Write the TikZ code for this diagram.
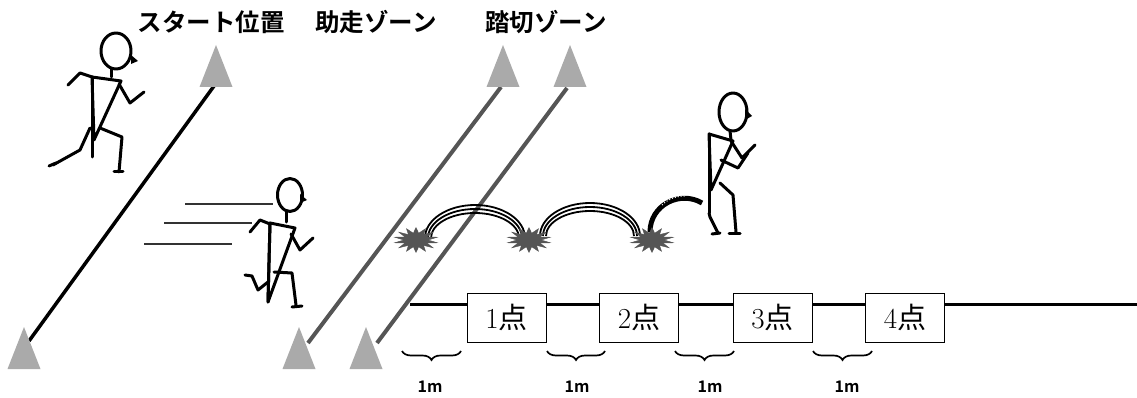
\documentclass[tikz,border=0pt]{standalone}
\usepackage{fontspec}
\newfontfamily\jp{Noto Sans CJK JP}[BoldFont={Noto Sans CJK JP Bold}]
\usetikzlibrary{shapes.geometric,decorations.pathreplacing}

\definecolor{conegray}{HTML}{AAAAAA}
\definecolor{lanegray}{HTML}{555555}

% cone, apex at (#1,#2)
\newcommand{\pylon}[2]{\fill[conegray] (#1,#2) -- (#1+16.5,#2+42) -- (#1-16.5,#2+42) -- cycle;}

\begin{document}
\begin{tikzpicture}[x=1pt, y=-1pt,
  lane/.style={line width=4pt, lanegray},
  body/.style={line width=3pt, line cap=round, line join=round},
  title/.style={font=\jp\bfseries\fontsize{24.5}{24.5}\selectfont},
  pointbox/.style={draw, fill=white, line width=1pt, minimum width=79pt,
    minimum height=49pt, inner sep=0pt, font=\fontsize{29}{29}\selectfont},
  gap/.style={decorate, decoration={brace, mirror, amplitude=9pt}, line width=1.7pt},
  meter/.style={font=\jp\bfseries\fontsize{16}{16}\selectfont},
  splat/.style={star, star points=14, star point ratio=1.8, minimum size=25pt,
    inner sep=0pt, fill=lanegray, draw=lanegray},
  hop/.style={line width=1.8pt},
  speed/.style={line width=1.5pt, black!80}]

\useasboundingbox (0,0) rectangle (1137,398);

\node[title] (start)   at (211,22) {スタート位置};
\node[title] (runup)   at (376,22) {助走ゾーン};
\node[title] (takeoff) at (546,22) {踏切ゾーン};

% lines between the cones
\draw[line width=3.5pt] (29,341) -- (214,86);
\draw[lane] (308,343) -- (501,87);
\draw[lane] (377,343) -- (567,88);

\pylon{216}{45}
\pylon{503}{45}
\pylon{570}{45}
\pylon{24}{327}
\pylon{299}{327}
\pylon{366}{327}

% ground and points
\draw[line width=3pt] (410,304) -- (1137,304);
\foreach \n/\x in {1/506.5,2/639,3/772.5,4/905}
  \node[pointbox] (p\n) at (\x,317.5) {\n{\jp 点}};

\foreach \a/\b in {402/461,547/605,675/734,813/872}
  \draw[gap] (\a,351) -- (\b,351);
\foreach \x in {430,577,710,847}
  \node[meter] (m\x) at (\x,387) {1m};

% speed lines
\draw[speed] (185,204) -- (273,204);
\draw[speed] (164,223) -- (252,223);
\draw[speed] (144,244) -- (232,244);

% hops
\foreach \r/\h in {50/33,47/29,44/25}{
  \draw[hop] (475-\r,238) arc[start angle=180, end angle=360, x radius=\r, y radius=\h];
  \draw[hop] (590-\r,236) arc[start angle=180, end angle=360, x radius=\r, y radius=\h];
}
\draw[line width=5pt] (650,232) .. controls (650,205) and (680,190) .. (702,203);
\draw[white, line width=1pt, dotted] (662,205) .. controls (668,199) and (676,196) .. (686,196);

\foreach \n/\x in {1/416,2/529,3/652}
  \node[splat, xscale=1.75] (s\n) at (\x,240) {};

% runner at the start
\draw[body] (116,51) ellipse[x radius=15, y radius=18];
\fill (131,55) -- (138,61) -- (131,64) -- cycle;
\draw[body] (111,69) -- (111,77);
\draw[body] (92,77) -- (121,81) -- (94,140) -- cycle;
\draw[body] (92,77) -- (92,157);
\draw[body] (92,77) -- (80,73) -- (68,85);
\draw[body] (119,84) -- (130,103) -- (144,92);
\draw[body] (90,128) -- (80,150) -- (53,165);
\draw[body] (100,128) -- (122,137) -- (119,172);
\draw[body] (49,166) -- (56,163);
\draw[body] (114,172) -- (123,172);

% runner on the run-up
\draw[body] (290,195) ellipse[x radius=12.5, y radius=16.5];
\fill (300,194) -- (307,200) -- (300,203) -- cycle;
\draw[body] (286,212) -- (286,222);
\draw[body] (270,223) -- (295,228) -- (268,302) -- cycle;
\draw[body] (270,223) -- (268,302);
\draw[body] (270,224) -- (260,220) -- (250,232);
\draw[body] (291,234) -- (300,250) -- (313,238);
\draw[body] (268,282) -- (258,290) -- (252,276) -- (245,275);
\draw[body] (274,272) -- (292,273) -- (296,305);
\draw[body] (292,307) -- (302,306);

% runner after the jumps
\draw[body] (733,112) ellipse[x radius=14, y radius=19];
\fill (745,109) -- (752,116) -- (745,120) -- cycle;
\draw[body] (730,131) -- (731,140);
\draw[body] (709,134) -- (733,141) -- (711,190) -- cycle;
\draw[body] (709,134) -- (709,213);
\draw[body] (731,141) -- (742,158) -- (755,145);
\draw[body] (721,160) -- (738,168) -- (748,153);
\draw[body] (709,213) -- (710,217) -- (718,233);
\draw[body] (720,183) -- (733,195) -- (736,232);
\draw[body] (729,233) -- (740,233);
\draw[body] (712,234) -- (720,233);
\end{tikzpicture}
\end{document}
